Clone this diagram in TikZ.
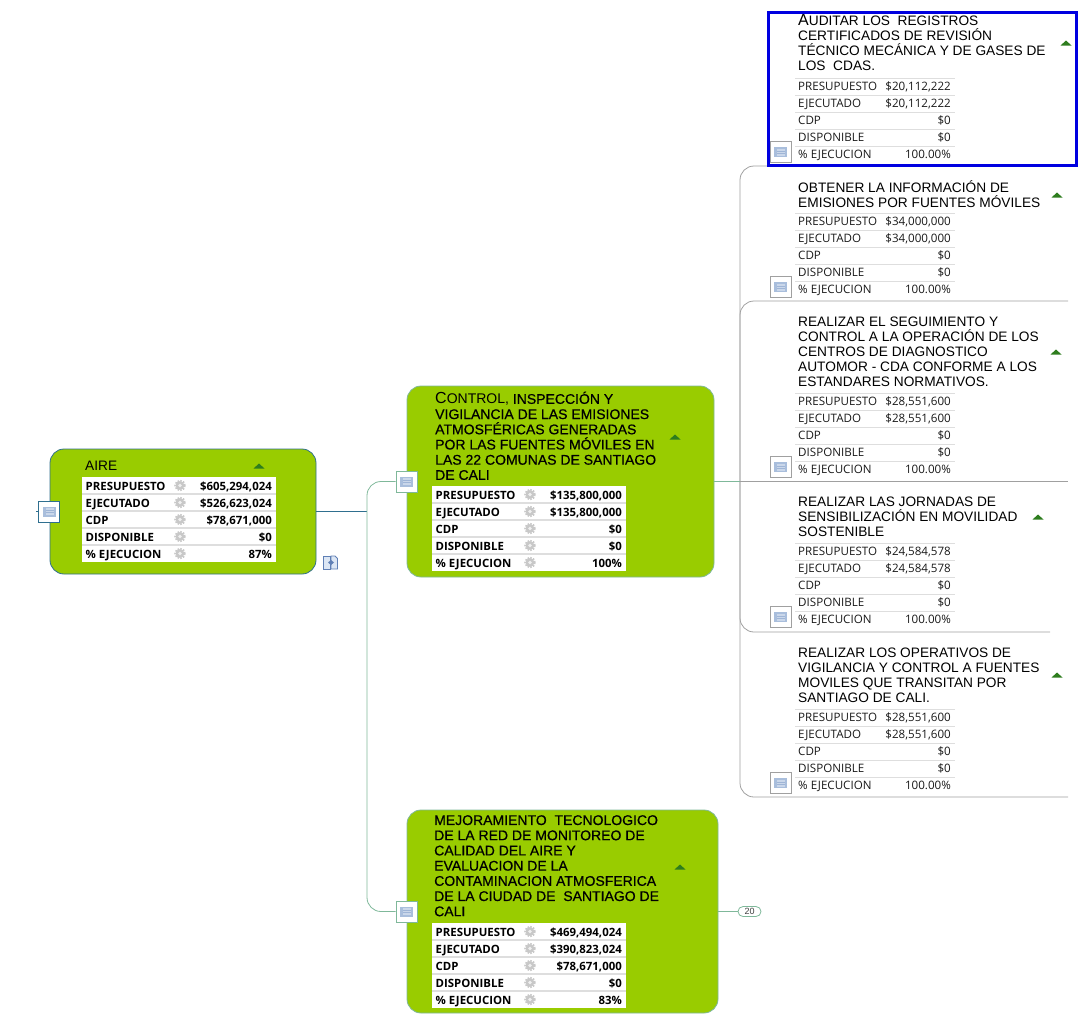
\documentclass[tikz,border=0pt]{standalone}
\usepackage{fontspec}
\setmainfont{Liberation Sans}
\newfontfamily\ttl{Liberation Sans}
\newfontfamily\ttlb[FakeBold=0.55]{Liberation Sans}
\newfontfamily\tbl{Open Sans}
\definecolor{leaf}{HTML}{99CC00}
\definecolor{teal}{HTML}{2F6F8F}
\definecolor{mint}{HTML}{7FB89A}
\definecolor{cgray}{HTML}{A0A0A0}
\definecolor{sep}{HTML}{DEDEDE}
\definecolor{tri}{HTML}{2E7D1E}
\definecolor{gearc}{HTML}{C8C8C8}
\definecolor{noteA}{HTML}{A9BEDC}
\definecolor{noteB}{HTML}{CAD7EA}
\definecolor{noteC}{HTML}{9FB5D6}
\definecolor{gearhole}{HTML}{F0F0F0}
\definecolor{linkc}{HTML}{5F7FB5}
\definecolor{linkf}{HTML}{DCE6F4}
\tikzset{
 topic/.style={draw=#1,fill=leaf,rounded corners=14,line width=.8,inner sep=0},
 iconbox/.style={draw=#1,fill=white,line width=.8,minimum width=21,minimum height=21,inner sep=0},
 ttext/.style={align=left,anchor=north west,inner sep=0,text=black,font=\fontsize{13.7}{15}\ttl},
 gtext/.style={align=left,anchor=north west,inner sep=0,text=black,font=\fontsize{14}{15.2}\ttlb},
 lcell/.style={inner sep=0,font=\fontsize{11.6}{13}\tbl,text=black!90},
 gcell/.style={inner sep=0,font=\fontsize{11.4}{13}\tbl\bfseries,text=black},
 branch/.style={cgray,line width=.8,rounded corners=14},
 link/.style={mint,line width=.8,rounded corners=14},
}
% collapse triangle
\newcommand{\trimark}[2]{\fill[tri] (#1-5.5,#2+2.5) -- (#1,#2-2.5) -- (#1+5.5,#2+2.5) -- cycle;}
% note icon
\newcommand{\noteicon}[4]{\node[iconbox=#4] (#1) at (#2,#3) {};
 \fill[noteA] (#2-6.5,#3-5) rectangle (#2+6.5,#3+5);
 \fill[noteB] (#2-3.5,#3-3.5) rectangle (#2+4.5,#3+3.5);
 \draw[noteC,line width=.5] (#2-3.5,#3-1.2) -- (#2+4.5,#3-1.2) (#2-3.5,#3+1.2) -- (#2+4.5,#3+1.2);}
% gear
\newcommand{\gearmark}[2]{\draw[gearc,line width=1.5,dash pattern=on 1.6 off 1.3] (#1,#2) circle (5);
 \fill[gearc] (#1,#2) circle (4.4); \fill[gearhole] (#1,#2) circle (1.8);}
% light table: prefix, ytop, five values
\newcommand{\lighttable}[7]{
 \foreach \k in {0,1,2,3,4}{\draw[sep,line width=1] (795,#2+\k*17) -- (955,#2+\k*17);}
 \node[lcell,anchor=base west] (#1la) at (798,#2+12) {PRESUPUESTO};
 \node[lcell,anchor=base west] (#1lb) at (798,#2+29) {EJECUTADO};
 \node[lcell,anchor=base west] (#1lc) at (798,#2+46) {CDP};
 \node[lcell,anchor=base west] (#1ld) at (798,#2+63) {DISPONIBLE};
 \node[lcell,anchor=base west] (#1le) at (798,#2+80) {\% EJECUCION};
 \node[lcell,anchor=base east] (#1va) at (951,#2+12) {#3};
 \node[lcell,anchor=base east] (#1vb) at (951,#2+29) {#4};
 \node[lcell,anchor=base east] (#1vc) at (951,#2+46) {#5};
 \node[lcell,anchor=base east] (#1vd) at (951,#2+63) {#6};
 \node[lcell,anchor=base east] (#1ve) at (951,#2+80) {#7};
}
% green table: prefix, xleft, ytop, five values
\newcommand{\greentable}[8]{
 \fill[white] (#2,#3) rectangle (#2+194,#3+85);
 \foreach \k in {1,2,3,4}{\draw[sep,line width=1.2] (#2,#3+\k*17) -- (#2+194,#3+\k*17);}
 \foreach \k in {0,1,2,3,4}{\gearmark{#2+98}{#3+8.5+\k*17}}
 \node[gcell,anchor=base west] (#1la) at (#2+3.5,#3+13) {PRESUPUESTO};
 \node[gcell,anchor=base west] (#1lb) at (#2+3.5,#3+30) {EJECUTADO};
 \node[gcell,anchor=base west] (#1lc) at (#2+3.5,#3+47) {CDP};
 \node[gcell,anchor=base west] (#1ld) at (#2+3.5,#3+64) {DISPONIBLE};
 \node[gcell,anchor=base west] (#1le) at (#2+3.5,#3+81) {\% EJECUCION};
 \node[gcell,anchor=base east] (#1va) at (#2+190,#3+13) {#4};
 \node[gcell,anchor=base east] (#1vb) at (#2+190,#3+30) {#5};
 \node[gcell,anchor=base east] (#1vc) at (#2+190,#3+47) {#6};
 \node[gcell,anchor=base east] (#1vd) at (#2+190,#3+64) {#7};
 \node[gcell,anchor=base east] (#1ve) at (#2+190,#3+81) {#8};
}
\begin{document}
\begin{tikzpicture}[x=1pt,y=-1pt]
\useasboundingbox (0,0) rectangle (1086,1023);
% topic boxes
\node[topic=teal,minimum width=266,minimum height=125] (aire) at (183,511.5) {};
\node[topic=mint,minimum width=307,minimum height=191] (ctrl) at (560.5,481.5) {};
\node[topic=mint,minimum width=311,minimum height=203] (mej) at (562.5,911.5) {};
% named ends
\coordinate (split) at (367,511.5);
\coordinate (trunk) at (740,481.5);
\coordinate (stub) at (36,511.5);
\coordinate (e1) at (770,166);
\coordinate (e2) at (1068,301);
\coordinate (e3) at (1068,481.5);
\coordinate (e4) at (1050,632);
\coordinate (e5) at (1068,797);
% connectors
\node[draw=mint,line width=.8,rounded corners=5,minimum width=23,minimum height=10,inner sep=0,font=\fontsize{9}{10}\ttl,text=black!75] (count) at (749.5,911.5) {20};
\draw[branch] (trunk) |- (e1);
\draw[branch] (trunk) |- (e2);
\draw[branch] (trunk) -- (e3);
\draw[branch] (trunk) |- (e4);
\draw[branch] (trunk) |- (e5);
\draw[mint,line width=.8] (ctrl.east) -- (trunk);
\draw[teal,line width=.8] (aire.east) -- (split);
\draw[teal,line width=.8] (stub) -- (aire.west);
\draw[mint,line width=.8] (mej.east) -- (count.west);
% icons
\noteicon{iaire}{49}{511.5}{teal}
\noteicon{ictrl}{406.5}{481.5}{mint}
\noteicon{imej}{406.5}{911.5}{mint}
\draw[link] (split) |- (ictrl.west);
\draw[link] (split) |- (imej.west);
\noteicon{ia}{780.5}{152}{cgray}
\noteicon{ib}{780.5}{287}{cgray}
\noteicon{ic}{780.5}{467}{cgray}
\noteicon{id}{780.5}{617}{cgray}
\noteicon{ie}{780.5}{783}{cgray}
% selection frame
\node[draw={rgb,255:red,0;green,0;blue,224},line width=3,minimum width=308,minimum height=153,inner sep=0] (sel) at (922,88.5) {};
% titles
\node[font=\fontsize{13.7}{15}\ttl,anchor=west,inner sep=0] (taire) at (85,465.5) {AIRE};
\node[gtext] (tctrl) at (435,391.5) {{\fontsize{16}{15}\ttl C}{\ttl ONTROL,} INSPECCIÓN Y\\VIGILANCIA DE LAS EMISIONES\\ATMOSFÉRICAS GENERADAS\\POR LAS FUENTES MÓVILES EN\\LAS 22 COMUNAS DE SANTIAGO\\DE CALI};
\node[gtext] (tmej) at (434,815) {MEJORAMIENTO\ \ TECNOLOGICO\\DE LA RED DE MONITOREO DE\\CALIDAD DEL AIRE Y\\EVALUACION DE LA\\CONTAMINACION ATMOSFERICA\\DE LA CIUDAD DE\ \ SANTIAGO DE\\CALI};
\node[ttext] (ta) at (798,14.5) {{\fontsize{16}{15}\selectfont A}UDITAR LOS\ \ REGISTROS\\CERTIFICADOS DE REVISIÓN\\TÉCNICO MECÁNICA Y DE GASES DE\\LOS\ \ CDAS.};
\node[ttext] (tb) at (798,180) {OBTENER LA INFORMACIÓN DE\\EMISIONES POR FUENTES MÓVILES};
\node[ttext] (tc) at (798,317) {REALIZAR EL SEGUIMIENTO Y\\CONTROL A LA OPERACIÓN DE LOS\\CENTROS DE DIAGNOSTICO\\AUTOMOR - CDA CONFORME A LOS\\ESTANDARES NORMATIVOS.};
\node[ttext] (td) at (798,496.5) {REALIZAR LAS JORNADAS DE\\SENSIBILIZACIÓN EN MOVILIDAD\\SOSTENIBLE};
\node[ttext] (te) at (798,648) {REALIZAR LOS OPERATIVOS DE\\VIGILANCIA Y CONTROL A FUENTES\\MOVILES QUE TRANSITAN POR\\SANTIAGO DE CALI.};
% triangles
\trimark{259}{466}\trimark{675}{437}\trimark{680}{867}
\trimark{1066}{43}\trimark{1057}{195}\trimark{1056}{352}\trimark{1038}{517}\trimark{1057}{675}
% tables
\greentable{ga}{82}{477}{\$605,294,024}{\$526,623,024}{\$78,671,000}{\$0}{87\%}
\greentable{gb}{432}{486}{\$135,800,000}{\$135,800,000}{\$0}{\$0}{100\%}
\greentable{gc}{432}{923}{\$469,494,024}{\$390,823,024}{\$78,671,000}{\$0}{83\%}
\lighttable{la}{78}{\$20,112,222}{\$20,112,222}{\$0}{\$0}{100.00\%}
\lighttable{lb}{213}{\$34,000,000}{\$34,000,000}{\$0}{\$0}{100.00\%}
\lighttable{lc}{393}{\$28,551,600}{\$28,551,600}{\$0}{\$0}{100.00\%}
\lighttable{ld}{543}{\$24,584,578}{\$24,584,578}{\$0}{\$0}{100.00\%}
\lighttable{le}{709}{\$28,551,600}{\$28,551,600}{\$0}{\$0}{100.00\%}
% map-link icon
\draw[linkc,fill=linkf,line width=.9] (323,556) rectangle (330,569);
\draw[linkc,fill=linkf,line width=.9] (331,556) -- (335,556) -- (337.5,558.5) -- (337.5,569) -- (331,569) -- cycle;
\fill[linkc] (328,562.5) -- (331,560) -- (331,565) -- cycle;
\fill[linkc] (334,562.5) -- (331,560) -- (331,565) -- cycle;
\end{tikzpicture}
\end{document}
